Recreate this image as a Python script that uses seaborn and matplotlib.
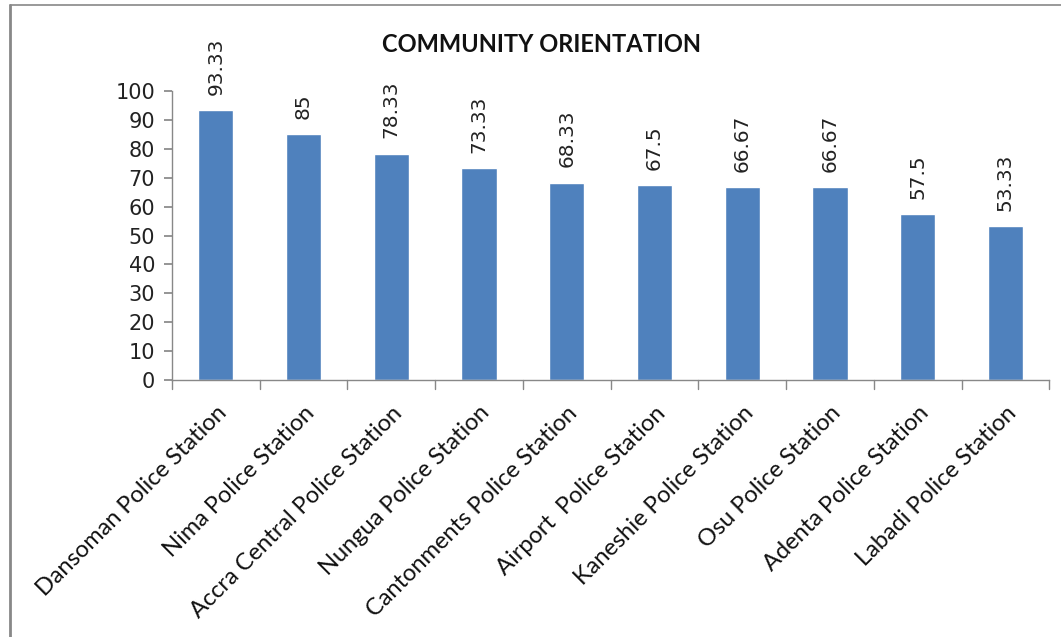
import matplotlib
matplotlib.use("Agg")
import matplotlib.pyplot as plt
import seaborn as sns
import pandas as pd
from matplotlib.lines import Line2D

stations = ["Dansoman Police Station", "Nima Police Station", "Accra Central Police Station",
            "Nungua Police Station", "Cantonments Police Station", "Airport  Police Station",
            "Kaneshie Police Station", "Osu Police Station", "Adenta Police Station",
            "Labadi Police Station"]
scores = [93.33, 85, 78.33, 73.33, 68.33, 67.5, 66.67, 66.67, 57.5, 53.33]
value_labels = ["93.33", "85", "78.33", "73.33", "68.33", "67.5", "66.67", "66.67", "57.5", "53.33"]
yticks = [0, 10, 20, 30, 40, 50, 60, 70, 80, 90, 100]
title = "COMMUNITY ORIENTATION"

sns.set_theme(style="white")
plt.rcParams['font.family'] = ['DejaVu Sans']

df = pd.DataFrame({"station": stations, "score": scores})

fig = plt.figure(figsize=(10.61, 6.37), dpi=100)
ax = fig.add_axes([0.162, 0.4035, 0.827, 0.4535])
sns.barplot(data=df, x="station", y="score", color="#4F81BD", width=0.4,
            saturation=1, ax=ax, order=stations)

ax.set_ylim(0, 100)
ax.set_xlim(-0.5, len(stations) - 0.5)
ax.set_yticks(yticks)
ax.set_yticklabels([str(t) for t in yticks], fontsize=15, color="#222222")
ax.set_xlabel("")
ax.set_ylabel("")
ax.set_xticks(range(len(stations)))
ax.set_xticklabels(stations, rotation=45, ha="right", rotation_mode="anchor",
                   fontsize=17, family="Lato", color="#111111")
ax.tick_params(axis="x", length=0, pad=16)
ax.tick_params(axis="y", length=6, direction="out", left=True, color="#888888", pad=6)

# boundary ticks for categories on x axis
for b in [i - 0.5 for i in range(len(stations) + 1)]:
    ax.add_line(Line2D([b, b], [0, -3], color="#888888", lw=1, clip_on=False,
                       transform=ax.transData))

for s in ["top", "right"]:
    ax.spines[s].set_visible(False)
for s in ["left", "bottom"]:
    ax.spines[s].set_color("#888888")
    ax.spines[s].set_linewidth(1)

for i, (v, lab) in enumerate(zip(scores, value_labels)):
    ax.annotate(lab, (i, v), xytext=(0, 11), textcoords="offset points",
                rotation=90, ha="center", va="bottom", fontsize=14.5, color="#222222")

fig.text(0.51, 0.93, title, ha="center", va="center", fontsize=17,
         fontweight="bold", family="Lato", color="#111111")

# figure frame lines (top and left)
fig.add_artist(Line2D([10 / 1061, 1.0], [1 - 5 / 637, 1 - 5 / 637], color="#888888",
                      lw=1.2, transform=fig.transFigure))
fig.add_artist(Line2D([10 / 1061, 10 / 1061], [0, 1 - 5 / 637], color="#888888",
                      lw=2, transform=fig.transFigure))

fig.savefig("out.png", dpi=100)
